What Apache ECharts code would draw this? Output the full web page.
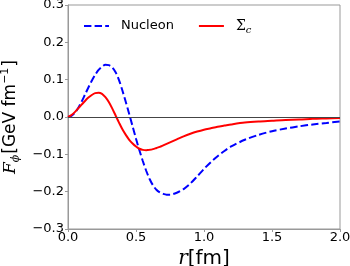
<!DOCTYPE html>
<html>
<head>
<meta charset="utf-8">
<script src="https://cdn.jsdelivr.net/npm/echarts@6/dist/echarts.min.js"></script>
<style>html,body{margin:0;padding:0;background:#fff;}#c{width:350px;height:266px;}</style>
</head>
<body>
<div id="c"></div>
<script>
const r = [0.000,0.025,0.050,0.075,0.100,0.125,0.150,0.175,0.200,0.225,0.250,0.275,0.300,0.325,0.350,0.375,0.400,0.425,0.450,0.475,0.500,0.525,0.550,0.575,0.600,0.625,0.650,0.675,0.700,0.725,0.750,0.800,0.850,0.900,0.950,1.000,1.050,1.100,1.150,1.200,1.300,1.400,1.500,1.600,1.700,1.800,1.900,2.000];
const nucleon = [0,0.003,0.011,0.024,0.041,0.060,0.079,0.097,0.113,0.126,0.135,0.140,0.139,0.133,0.120,0.099,0.071,0.040,0.008,-0.025,-0.058,-0.089,-0.118,-0.144,-0.166,-0.183,-0.195,-0.202,-0.206,-0.208,-0.208,-0.203,-0.193,-0.178,-0.159,-0.139,-0.121,-0.105,-0.091,-0.079,-0.061,-0.048,-0.038,-0.031,-0.025,-0.020,-0.016,-0.012];
const sigmaC = [0,0.005,0.013,0.023,0.033,0.043,0.052,0.059,0.064,0.065,0.062,0.053,0.040,0.023,0.004,-0.015,-0.033,-0.048,-0.061,-0.071,-0.079,-0.085,-0.088,-0.089,-0.088,-0.086,-0.083,-0.080,-0.076,-0.072,-0.068,-0.060,-0.052,-0.045,-0.039,-0.034,-0.030,-0.026,-0.023,-0.020,-0.015,-0.012,-0.010,-0.008,-0.007,-0.005,-0.004,-0.003];
const xTicks = [0, 0.5, 1.0, 1.5, 2.0];
const yTicks = [-0.3, -0.2, -0.1, 0.0, 0.1, 0.2, 0.3];

const chart = echarts.init(document.getElementById('c'), null, {renderer: 'canvas'});
const fmt = v => (v < -1e-9 ? '\u2212' : '') + Math.abs(v).toFixed(1);
const mk = (xs, ys) => xs.map((x, i) => [x, ys[i]]);
chart.setOption({
  animation: false,
  backgroundColor: '#fff',
  grid: {left: 68, right: 10, top: 5, bottom: 37, show: true, borderColor: '#999', borderWidth: 1, containLabel: false, outerBoundsMode: 'none'},
  legend: {
    left: 78, top: 14, itemWidth: 25, itemHeight: 12, itemGap: 24,
    itemStyle: {opacity: 0},
    textStyle: {fontFamily: 'DejaVu Sans', fontSize: 13, color: '#000', padding: [0, 0, 0, 7],
      rich: {s: {fontFamily: 'DejaVu Serif', fontSize: 14, color: '#000'},
             c: {fontFamily: 'DejaVu Serif', fontStyle: 'italic', fontSize: 10, color: '#000', padding: [8, 0, 0, 0]}}},
    formatter: n => n === 'Sigma' ? '{s|\u03A3}{c|c}' : n,
    data: [{name: 'Nucleon'}, {name: 'Sigma'}]
  },
  xAxis: {
    type: 'value', min: 0, max: 2, interval: 0.5,
    name: '{i|r}{n|[fm]}', nameLocation: 'middle', nameGap: 15,
    nameTextStyle: {rich: {i: {fontFamily: 'DejaVu Serif', fontStyle: 'italic', fontSize: 20, color: '#000'},
                           n: {fontFamily: 'DejaVu Sans', fontSize: 20, color: '#000'}}},
    axisLine: {show: true, onZero: false, lineStyle: {color: '#999'}},
    axisTick: {show: true, length: 3, lineStyle: {color: '#999'}},
    axisLabel: {margin: 2, fontFamily: 'DejaVu Sans', fontSize: 13, color: '#000', formatter: fmt},
    splitLine: {show: false}
  },
  yAxis: {
    type: 'value', min: -0.3, max: 0.3, interval: 0.1,
    name: '{f|F}{p|\u03D5}{n|[GeV fm}{u|\u22121}{n|]}', nameLocation: 'middle', nameGap: 40, nameRotate: 90,
    nameTextStyle: {lineHeight: 22, rich: {
      f: {fontFamily: 'DejaVu Serif', fontStyle: 'italic', fontSize: 17, color: '#000', lineHeight: 22, verticalAlign: 'middle'},
      p: {fontFamily: 'DejaVu Serif', fontStyle: 'italic', fontSize: 11, color: '#000', lineHeight: 22, verticalAlign: 'bottom'},
      n: {fontFamily: 'DejaVu Sans', fontSize: 17, color: '#000', lineHeight: 22, verticalAlign: 'middle', padding: [0,0,0,1]},
      u: {fontFamily: 'DejaVu Sans', fontSize: 11, color: '#000', lineHeight: 22, verticalAlign: 'top'}}},
    axisLine: {show: true, onZero: false, lineStyle: {color: '#999'}},
    axisTick: {show: true, length: 3, lineStyle: {color: '#999'}},
    axisLabel: {margin: 4, fontFamily: 'DejaVu Sans', fontSize: 13, color: '#000', formatter: fmt},
    splitLine: {show: false}
  },
  series: [
    {name: 'Nucleon', type: 'line', data: mk(r, nucleon), smooth: 0.3, showSymbol: false, symbol: 'none',
     lineStyle: {color: '#0000ff', width: 2, type: [7.4, 3.2]}, itemStyle: {color: '#0000ff'},
     markLine: {silent: true, symbol: 'none', label: {show: false}, lineStyle: {color: '#444', width: 1, type: 'solid'}, data: [{yAxis: 0}]}, z: 3},
    {name: 'Sigma', type: 'line', data: mk(r, sigmaC), smooth: 0.3, showSymbol: false, symbol: 'none',
     lineStyle: {color: '#ff0000', width: 2, type: 'solid'}, itemStyle: {color: '#ff0000'}, z: 4}
  ]
});
</script>
</body>
</html>
